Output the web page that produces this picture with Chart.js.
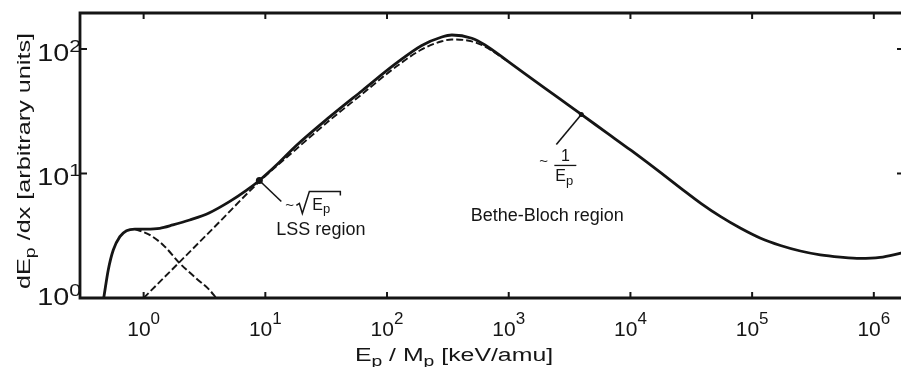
<!DOCTYPE html>
<html>
<head>
<meta charset="utf-8">
<script src="https://cdn.jsdelivr.net/npm/chart.js@4.4.1/dist/chart.umd.min.js"></script>
<style>
  html, body { margin: 0; padding: 0; background: #fff; overflow: hidden; width: 901px; height: 367px; }
  #wrap { position: relative; width: 912px; height: 367px; }
</style>
</head>
<body>
<div id="wrap"><canvas id="c" width="912" height="367"></canvas></div>
<script>
// Proton stopping power dE/dx versus specific energy E/M (log-log)

// total stopping curve
const totalEnergy   = [0.47, 0.512, 0.563, 0.638, 0.723, 0.847, 1.05, 1.357, 1.74, 2.39, 3.48, 5.07, 6.94, 8.93, 12.6, 17.8, 33.4, 62.7, 117, 193, 282, 341, 497, 638, 993, 1637, 2546, 3950, 6530, 10140, 17830, 26000, 37900, 55200, 80500, 117400, 171000, 249000, 363000, 530000, 772000, 1125000, 1700000];
const totalStopping = [1.0, 1.68, 2.43, 3.11, 3.47, 3.58, 3.58, 3.63, 3.86, 4.23, 4.84, 5.94, 7.28, 8.79, 11.9, 16.6, 28.2, 46.4, 75.8, 106.7, 124.8, 129.5, 121.9, 107.7, 79.1, 55.5, 40.7, 29.8, 20.9, 15.3, 10.1, 7.6, 5.76, 4.5, 3.63, 3.02, 2.64, 2.385, 2.22, 2.13, 2.08, 2.12, 2.3];

// electronic stopping component
const electronicEnergy   = [1.0, 2.0, 4.0, 8.93, 17.8, 33.4, 62.7, 117, 193, 282, 341, 497, 638, 993];
const electronicStopping = [1.0, 1.97, 3.89, 8.6, 15.6, 26.5, 43.6, 71.3, 99.2, 115.4, 119.1, 115.2, 104.5, 79.1];

// nuclear stopping component
const nuclearEnergy   = [0.847, 1.12, 1.445, 1.98, 2.70, 3.48, 3.94];
const nuclearStopping = [3.58, 3.21, 2.67, 1.90, 1.44, 1.16, 1.0];

// decade tick exponents
const xTickExps = [0, 1, 2, 3, 4, 5, 6];
const yTickExps = [0, 1, 2];

// callout anchors on the total curve
const lssAnchor = { E: 8.93, S: 8.79 };
const betheAnchor = { E: 3950, S: 29.8 };

const FONT = "'Liberation Sans', Arial, Helvetica, sans-serif";
const INK = '#151515';

function pts(xs, ys) { return xs.map((e, i) => ({ x: e, y: ys[i] })); }

// draws a run of text pieces (with sub/superscripts) horizontally
function richText(ctx, parts, x, base, align, sx) {
  sx = sx || 1;
  let total = 0;
  const widths = parts.map(p => {
    ctx.font = p.s + 'px ' + FONT;
    const w = ctx.measureText(p.t).width * sx;
    total += w;
    return w;
  });
  let cx = align === 'center' ? x - total / 2 : align === 'right' ? x - total : x;
  parts.forEach((p, i) => {
    ctx.font = p.s + 'px ' + FONT;
    ctx.save();
    ctx.translate(cx, base + (p.dy || 0));
    ctx.scale(sx, 1);
    ctx.textAlign = 'left';
    ctx.textBaseline = 'alphabetic';
    ctx.fillText(p.t, 0, 0);
    ctx.restore();
    cx += widths[i];
  });
}

function seg(ctx, x1, y1, x2, y2) {
  ctx.beginPath(); ctx.moveTo(x1, y1); ctx.lineTo(x2, y2); ctx.stroke();
}

const decorations = {
  id: 'decorations',
  afterDatasetsDraw(chart) {
    const { ctx, chartArea: a, scales: { x, y } } = chart;
    ctx.save();
    ctx.strokeStyle = INK;
    ctx.fillStyle = INK;

    // frame
    ctx.lineWidth = 2.8;
    ctx.beginPath();
    ctx.moveTo(a.left, a.top); ctx.lineTo(a.right, a.top);
    ctx.lineTo(a.right, a.bottom); ctx.lineTo(a.left, a.bottom);
    ctx.closePath(); ctx.stroke();

    // inward decade ticks
    ctx.lineWidth = 2;
    xTickExps.forEach(k => {
      const px = x.getPixelForValue(Math.pow(10, k));
      seg(ctx, px, a.bottom, px, a.bottom - 6);
      seg(ctx, px, a.top, px, a.top + 6);
    });
    yTickExps.forEach(k => {
      if (k === 0) return;
      const py = y.getPixelForValue(Math.pow(10, k));
      seg(ctx, a.left, py, a.left + 7, py);
      seg(ctx, a.right, py, a.right - 7, py);
    });

    // x tick labels
    xTickExps.forEach(k => {
      const px = x.getPixelForValue(Math.pow(10, k));
      richText(ctx, [{ t: '10', s: 21 }, { t: String(k), s: 17, dy: -12 }], px, 336, 'center');
    });
    // y tick labels
    yTickExps.forEach(k => {
      const py = y.getPixelForValue(Math.pow(10, k));
      const base = py + (k === 0 ? 7 : 12);
      richText(ctx, [{ t: '10', s: 23 }, { t: String(k), s: 17, dy: -9 }], a.left + 1, base, 'right', 1.25);
    });

    // axis titles
    richText(ctx, [
      { t: 'E', s: 18 }, { t: 'p', s: 14, dy: 5 }, { t: ' / M', s: 18 },
      { t: 'p', s: 14, dy: 5 }, { t: ' [keV/amu]', s: 18 }
    ], 454, 361, 'center', 1.38);

    ctx.save();
    ctx.translate(30, 161);
    ctx.rotate(-Math.PI / 2);
    richText(ctx, [
      { t: 'dE', s: 18 }, { t: 'p', s: 14, dy: 5 }, { t: ' /dx [arbitrary units]', s: 18 }
    ], 0, 0, 'center', 1.4);
    ctx.restore();

    // LSS callout
    const l = { x: x.getPixelForValue(lssAnchor.E), y: y.getPixelForValue(lssAnchor.S) };
    ctx.beginPath(); ctx.arc(l.x, l.y, 3.5, 0, Math.PI * 2); ctx.fill();
    ctx.lineWidth = 1.6;
    seg(ctx, l.x, l.y, l.x + 22, l.y + 21);
    richText(ctx, [{ t: '~', s: 15 }], l.x + 26, l.y + 30, 'left');
    ctx.lineWidth = 1.5;
    ctx.beginPath();
    ctx.moveTo(l.x + 37, l.y + 25);
    ctx.lineTo(l.x + 40, l.y + 23);
    ctx.lineTo(l.x + 43, l.y + 33);
    ctx.lineTo(l.x + 50, l.y + 11);
    ctx.lineTo(l.x + 81, l.y + 11);
    ctx.lineTo(l.x + 81, l.y + 15);
    ctx.stroke();
    richText(ctx, [{ t: 'E', s: 16 }, { t: 'p', s: 13, dy: 3 }], l.x + 53, l.y + 30, 'left');
    richText(ctx, [{ t: 'LSS region', s: 18 }], l.x + 17, l.y + 55, 'left');

    // Bethe-Bloch callout
    const b = { x: x.getPixelForValue(betheAnchor.E), y: y.getPixelForValue(betheAnchor.S) };
    ctx.beginPath(); ctx.arc(b.x, b.y, 2.5, 0, Math.PI * 2); ctx.fill();
    ctx.lineWidth = 1.6;
    seg(ctx, b.x, b.y, b.x - 25, b.y + 30);
    seg(ctx, b.x - 4, b.y - 3, b.x + 4, b.y + 3);
    richText(ctx, [{ t: '~', s: 15 }], b.x - 42, b.y + 52, 'left');
    richText(ctx, [{ t: '1', s: 16 }], b.x - 16, b.y + 47, 'center');
    ctx.lineWidth = 1.3;
    seg(ctx, b.x - 27, b.y + 51, b.x - 5, b.y + 51);
    richText(ctx, [{ t: 'E', s: 16 }, { t: 'p', s: 13, dy: 4 }], b.x - 26, b.y + 67, 'left');
    richText(ctx, [{ t: 'Bethe-Bloch region', s: 18 }], b.x - 34, b.y + 107, 'center');

    ctx.restore();
  }
};

new Chart(document.getElementById('c'), {
  type: 'line',
  data: {
    datasets: [
      {
        label: 'total',
        data: pts(totalEnergy, totalStopping),
        borderColor: INK, borderWidth: 2.8, pointRadius: 0,
        cubicInterpolationMode: 'monotone', fill: false
      },
      {
        label: 'electronic',
        data: pts(electronicEnergy, electronicStopping),
        borderColor: INK, borderWidth: 1.9, borderDash: [7, 3], pointRadius: 0,
        cubicInterpolationMode: 'monotone', fill: false
      },
      {
        label: 'nuclear',
        data: pts(nuclearEnergy, nuclearStopping),
        borderColor: INK, borderWidth: 2, borderDash: [7, 3], pointRadius: 0,
        cubicInterpolationMode: 'monotone', fill: false
      }
    ]
  },
  options: {
    responsive: false,
    devicePixelRatio: 1,
    animation: false,
    layout: { padding: { left: 80, top: 13, right: 8, bottom: 69 } },
    scales: {
      x: { type: 'logarithmic', min: 0.3198, max: 1.77e6, display: false },
      y: { type: 'logarithmic', min: 1, max: 194.5, display: false }
    },
    plugins: { legend: { display: false }, tooltip: { enabled: false } }
  },
  plugins: [decorations]
});
</script>
</body>
</html>
